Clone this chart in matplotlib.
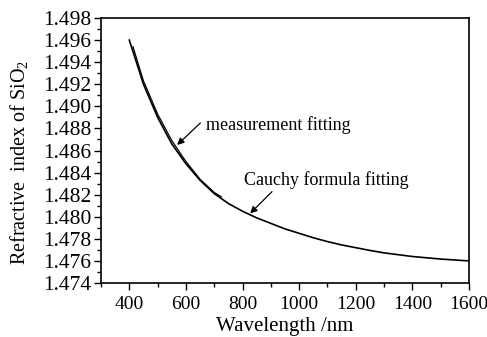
import numpy as np
import matplotlib.pyplot as plt
from matplotlib.ticker import MultipleLocator, FormatStrFormatter

plt.rcParams['font.family'] = ['Liberation Serif', 'DejaVu Serif']
plt.rcParams['mathtext.fontset'] = 'custom'
plt.rcParams['mathtext.rm'] = 'Liberation Serif'

# Cauchy formula fitting curve
cauchy_wl = [400, 450, 500, 550, 600, 650, 700, 750, 800, 850, 900, 950, 1000,
             1050, 1100, 1150, 1200, 1250, 1300, 1400, 1500, 1600]
cauchy_n = [1.4960, 1.4920, 1.4890, 1.4866, 1.4848, 1.4833, 1.4821, 1.4812,
            1.4805, 1.4799, 1.4794, 1.4789, 1.4785, 1.4781, 1.47775, 1.47745,
            1.4772, 1.47695, 1.47673, 1.4764, 1.47617, 1.4760]

# measurement fitting curve
meas_wl = [413, 450, 500, 550, 600, 650, 700, 725]
meas_n = [1.4954, 1.4923, 1.4893, 1.4869, 1.4850, 1.4834, 1.4822, 1.4818]

xticks = [400, 600, 800, 1000, 1200, 1400, 1600]

fig = plt.figure(figsize=(4.87, 3.37), dpi=100)
ax = fig.add_axes([0.2074, 0.1602, 0.7556, 0.7864])

ax.plot(cauchy_wl, cauchy_n, color='k', lw=1.2)
ax.plot(meas_wl, meas_n, color='k', lw=0.9)

ax.set_xlim(300, 1600)
ax.set_ylim(1.474, 1.498)
ax.set_xticks(xticks)
ax.xaxis.set_minor_locator(MultipleLocator(100))
ax.yaxis.set_major_locator(MultipleLocator(0.002))
ax.yaxis.set_minor_locator(MultipleLocator(0.001))
ax.yaxis.set_major_formatter(FormatStrFormatter('%.3f'))

ax.tick_params(which='major', direction='out', length=5, width=1)
ax.tick_params(which='minor', direction='out', length=3, width=1)
ax.tick_params(axis='x', labelsize=14, pad=4)
ax.tick_params(axis='y', labelsize=15.5, pad=2)
for s in ax.spines.values():
    s.set_linewidth(1.2)

ax.set_xlabel('Wavelength /nm', fontsize=15, labelpad=3)
ax.set_ylabel('Refractive  index of SiO$_2$', fontsize=14.5)
ax.yaxis.set_label_coords(-0.19, 0.455)

# annotations
arrow = dict(arrowstyle='-|>', color='k', lw=0.9, mutation_scale=10,
             shrinkA=0, shrinkB=0)
ax.annotate('', xy=(569, 1.4865), xytext=(651, 1.48849), arrowprops=arrow)
ax.text(672, 1.4883, 'measurement fitting', fontsize=13, va='center', ha='left')
ax.annotate('', xy=(827, 1.4803), xytext=(904, 1.48227), arrowprops=arrow)
ax.text(806, 1.48333, 'Cauchy formula fitting', fontsize=13, va='center', ha='left')

fig.savefig('out.png', dpi=100)
